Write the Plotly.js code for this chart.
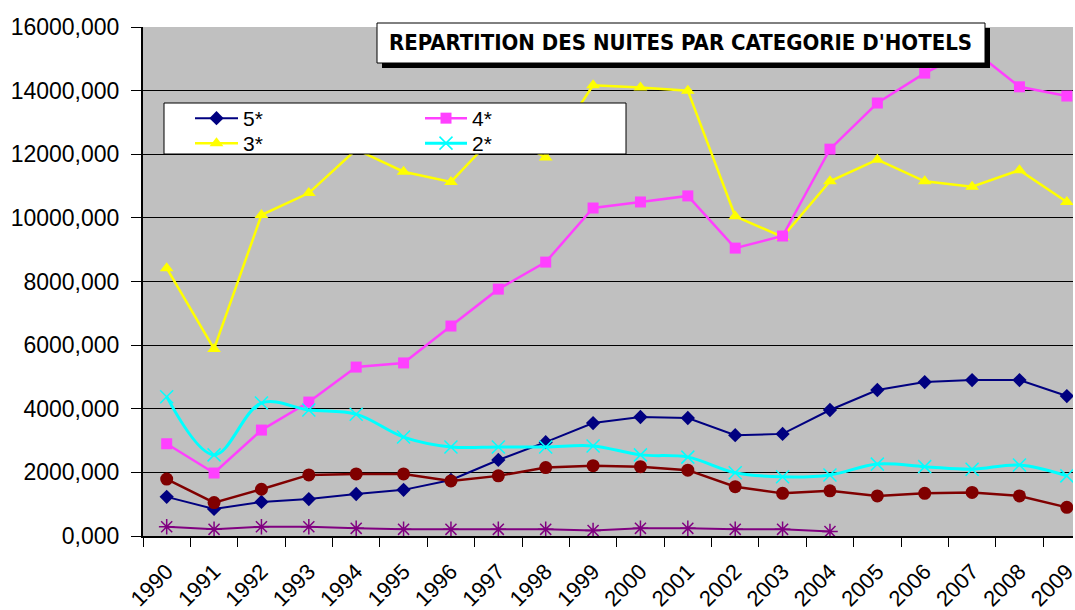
<!DOCTYPE html>
<html>
<head>
<meta charset="utf-8">
<script src="https://cdn.plot.ly/plotly-3.0.1.min.js"></script>
<style>html,body{margin:0;padding:0;overflow:hidden;background:#fff;}</style>
</head>
<body>
<div id="chart" style="width:1075px;height:610px;"></div>
<script>
const years = ['1990','1991','1992','1993','1994','1995','1996','1997','1998','1999','2000','2001','2002','2003','2004','2005','2006','2007','2008','2009'];
const yTickVals = [0,2000,4000,6000,8000,10000,12000,14000,16000];
const chartTitle = "REPARTITION DES NUITES PAR CATEGORIE D'HOTELS";

const s5 = [1230,850,1070,1160,1320,1450,1760,2390,2950,3550,3740,3710,3170,3210,3960,4590,4840,4900,4900,4400];
const s4 = [2900,1980,3330,4210,5310,5440,6600,7760,8610,10310,10500,10690,9050,9430,12160,13610,14550,15300,14120,13830];
const s3 = [8420,5880,10090,10780,12150,11450,11130,12700,11900,14170,14100,14000,10050,9400,11150,11830,11150,10980,11500,10500];
const s2 = [4380,2550,4180,3960,3830,3110,2800,2800,2800,2830,2550,2480,1990,1860,1920,2260,2180,2100,2230,1890];
const s1 = [1790,1050,1470,1920,1950,1950,1730,1890,2150,2210,2180,2070,1550,1340,1420,1260,1340,1370,1260,900];
const s0 = [290,210,290,290,240,210,210,210,210,170,240,240,210,210,140];

const traces = [
  {name:'5*', x:years, y:s5, type:'scatter', mode:'lines+markers', legend:'legend',
   line:{color:'#000080', width:2}, marker:{symbol:'diamond', size:11, color:'#000080'}},
  {name:'3*', x:years, y:s3, type:'scatter', mode:'lines+markers', legend:'legend2',
   line:{color:'#FFFF00', width:2.5}, marker:{symbol:'triangle-up', size:12, color:'#FFFF00'}},
  {name:'4*', x:years, y:s4, type:'scatter', mode:'lines+markers', legend:'legend3',
   line:{color:'#FF40FF', width:2.5}, marker:{symbol:'square', size:11, color:'#FF40FF'}},
  {name:'2*', x:years, y:s2, type:'scatter', mode:'lines+markers', legend:'legend4',
   line:{color:'#00FFFF', width:3, shape:'spline', smoothing:1}, marker:{symbol:'x-thin-open', size:13, color:'#00FFFF', line:{width:1.5, color:'#00FFFF'}}},
  {name:'1*', x:years, y:s1, type:'scatter', mode:'lines+markers', showlegend:false,
   line:{color:'#800000', width:2.5}, marker:{symbol:'circle', size:13, color:'#800000'}},
  {name:'HC', x:years.slice(0, s0.length), y:s0, type:'scatter', mode:'lines+markers', showlegend:false,
   line:{color:'#800080', width:2}, marker:{symbol:'asterisk-open', size:13, color:'#800080', line:{width:1.5, color:'#800080'}}}
];

const L = 143, T = 27, R = 1073, B = 536;
const W = R - L, H = B - T;
const px = v => (v - L) / W;
const py = v => (B - v) / H;

function leg(xp, yp, iw) {
  return {x:px(xp), y:py(yp), xanchor:'left', yanchor:'top', bgcolor:'rgba(0,0,0,0)', borderwidth:0,
    font:{size:21, color:'#000'}, itemwidth:iw};
}

const layout = {
  width:1075, height:610,
  margin:{l:L, r:1075-R, t:T, b:610-B, pad:0},
  paper_bgcolor:'#FFFFFF', plot_bgcolor:'#C0C0C0',
  separators:',.',
  font:{family:'Arial, "Liberation Sans", sans-serif', color:'#000'},
  xaxis:{type:'category', range:[-0.5, 19.13], tickson:'boundaries', ticks:'outside', ticklen:9,
    tickcolor:'#000', tickwidth:1, tickangle:-45, showline:true, linecolor:'#000', linewidth:2,
    showgrid:false, zeroline:false, tickfont:{size:22, color:'#000'}, ticklabelstandoff:12, fixedrange:true},
  yaxis:{range:[0,16000], tickvals:yTickVals, tickformat:'.3f', ticks:'outside', ticklen:10,
    tickcolor:'#000', showline:true, linecolor:'#000', linewidth:2, gridcolor:'#000', gridwidth:1,
    zeroline:false, tickfont:{size:23, color:'#000'}, ticklabelstandoff:7, fixedrange:true},
  showlegend:true,
  legend:leg(190, 98, 43),
  legend2:leg(190, 123, 43),
  legend3:leg(420, 98, 42),
  legend4:leg(420, 123, 42),
  shapes:[
    {type:'rect', xref:'paper', yref:'paper', x0:px(164), x1:px(626), y0:py(154), y1:py(103),
     fillcolor:'#FFFFFF', line:{color:'#000', width:1}, layer:'above'},
    {type:'rect', xref:'paper', yref:'paper', x0:px(382), x1:px(990), y0:py(68), y1:py(28),
     fillcolor:'#000000', line:{width:0}, layer:'above'},
    {type:'rect', xref:'paper', yref:'paper', x0:px(377), x1:px(985), y0:py(63), y1:py(23),
     fillcolor:'#FFFFFF', line:{color:'#000', width:1}, layer:'above'}
  ],
  annotations:[
    {text:'<b>'+chartTitle+'</b>', xref:'paper', yref:'paper', x:px(680), y:py(43), xanchor:'center', yanchor:'middle',
     showarrow:false, font:{family:'"Liberation Sans Narrow", "Arial Narrow", "DejaVu Sans Condensed", Arial, sans-serif', size:22, color:'#000'}}
  ]
};

Plotly.newPlot('chart', traces, layout, {displayModeBar:false, staticPlot:true});
</script>
</body>
</html>
